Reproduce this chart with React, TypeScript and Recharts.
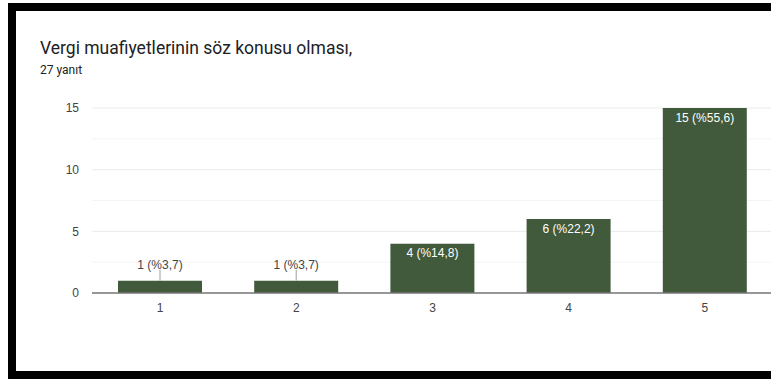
import React from 'react';
import {
  BarChart,
  Bar,
  XAxis,
  YAxis,
  CartesianGrid,
  LabelList,
} from 'recharts';

const categories = ['1', '2', '3', '4', '5'];
const counts = [1, 1, 4, 6, 15];
const pctLabels = ['3,7', '3,7', '14,8', '22,2', '55,6'];
const yTicks = [0, 5, 10, 15];
const minorTicks = [2.5, 7.5, 12.5];
const Y_MAX = 15;

const title = 'Vergi muafiyetlerinin söz konusu olması,';
const subtitle = '27 yanıt';

const BAR_COLOR = '#415a3b';
const FONT = '"Liberation Sans", Arial, sans-serif';

const data = categories.map((c, i) => ({
  name: c,
  value: counts[i],
  label: `${counts[i]} (%${pctLabels[i]})`,
}));

// google-charts style: label inside the bar when it fits, else above with a leader line
const BarLabel = (props: any) => {
  const { x, y, width, height, value } = props;
  const cx = x + width / 2;
  if (height < 25) {
    return (
      <g>
        <line x1={cx} x2={cx} y1={y - 11} y2={y} stroke="#9e9e9e" strokeWidth={1} />
        <text
          x={cx}
          y={y - 12}
          textAnchor="middle"
          fill="#444"
          fontSize={12}
          fontFamily={FONT}
        >
          {value}
        </text>
      </g>
    );
  }
  return (
    <text
      x={cx}
      y={y + 13.5}
      textAnchor="middle"
      fill="#ffffff"
      fontSize={12}
      fontFamily={FONT}
    >
      {value}
    </text>
  );
};

// minor grid lines between the labelled ticks
const minorLines = ({ yAxis, offset }: any) =>
  minorTicks.map((t) => {
    if (yAxis && typeof yAxis.scale === 'function') return yAxis.scale(t);
    return offset.top + offset.height * (1 - t / Y_MAX);
  });

export default function App() {
  return (
    <div
      style={{
        position: 'fixed',
        left: 0,
        top: 0,
        width: 771,
        height: 379,
        overflow: 'hidden',
        background: '#fff',
      }}
    >
      <div
        style={{
          position: 'absolute',
          left: 8,
          top: 3,
          width: 820,
          height: 376,
          boxSizing: 'border-box',
          border: '8px solid #000',
        }}
      />
      <div
        style={{
          position: 'absolute',
          left: 40,
          top: 40,
          fontFamily: 'Roboto, sans-serif',
          fontSize: 17.5,
          lineHeight: '17px',
          color: '#202124',
          whiteSpace: 'nowrap',
        }}
      >
        {title}
      </div>
      <div
        style={{
          position: 'absolute',
          left: 40,
          top: 64,
          fontFamily: 'Roboto, sans-serif',
          fontSize: 12,
          lineHeight: '12px',
          color: '#202124',
          whiteSpace: 'nowrap',
        }}
      >
        {subtitle}
      </div>
      <div style={{ position: 'absolute', left: 0, top: 0 }}>
        <BarChart
          width={800}
          height={379}
          data={data}
          margin={{ top: 108, right: 27, bottom: 56, left: 0 }}
        >
          <CartesianGrid
            vertical={false}
            stroke="#f4f4f4"
            horizontalCoordinatesGenerator={minorLines}
          />
          <CartesianGrid vertical={false} stroke="#ebebeb" />
          <XAxis
            dataKey="name"
            height={30}
            tickLine={false}
            tickSize={0}
            tickMargin={10}
            axisLine={{ stroke: '#777', strokeWidth: 1.5 }}
            tick={{ fill: '#444', fontSize: 12, fontFamily: FONT }}
          />
          <YAxis
            width={92}
            domain={[0, Y_MAX]}
            ticks={yTicks}
            axisLine={false}
            tickLine={false}
            tickSize={0}
            tickMargin={13}
            tick={{ fill: '#444', fontSize: 12, fontFamily: FONT }}
          />
          <Bar dataKey="value" fill={BAR_COLOR} barSize={84} isAnimationActive={false}>
            <LabelList dataKey="label" content={<BarLabel />} />
          </Bar>
        </BarChart>
      </div>
    </div>
  );
}
